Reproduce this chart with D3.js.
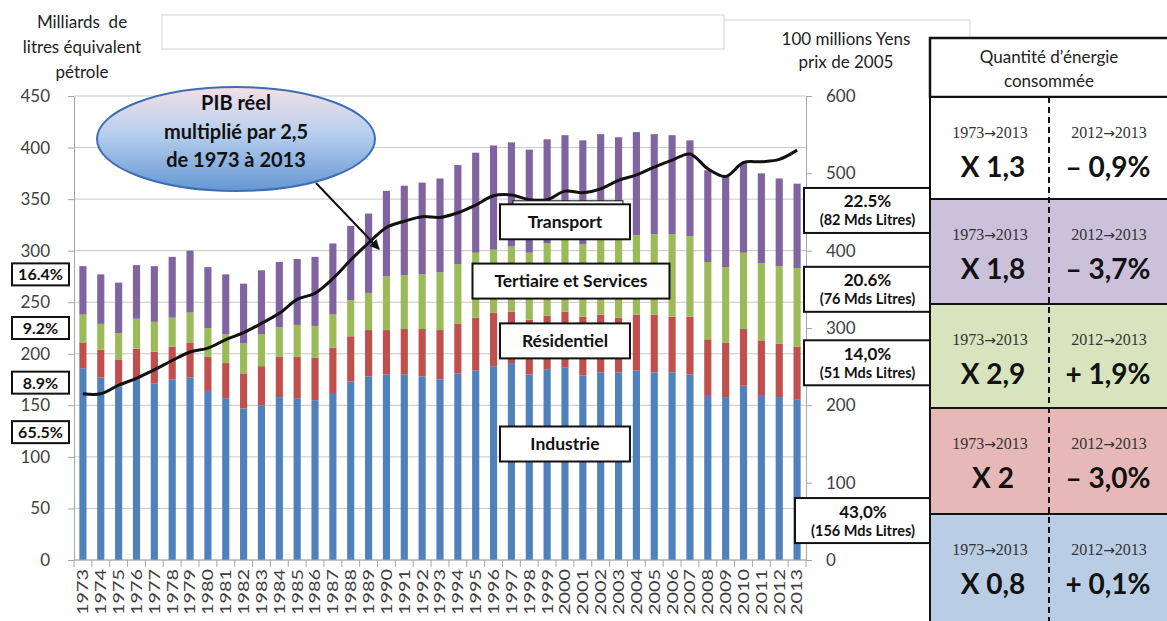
<!DOCTYPE html>
<html>
<head>
<meta charset="utf-8">
<script src="https://cdn.jsdelivr.net/npm/d3@7"></script>
<style>
  body { margin: 0; background: #fff; }
  svg { display: block; font-family: Lato, "Open Sans", sans-serif; }
</style>
</head>
<body>
<svg></svg>
<script>
// ---- data ----
const years = [1973,1974,1975,1976,1977,1978,1979,1980,1981,1982,1983,1984,1985,1986,1987,1988,1989,1990,1991,1992,
               1993,1994,1995,1996,1997,1998,1999,2000,2001,2002,2003,2004,2005,2006,2007,2008,2009,2010,2011,2012,2013];

const industrie   = [186,177,168,175,171,175,177,164,157,147,150,158,157,155,162,173,178,180,180,178,
                     175,181,184,188,191,180,185,187,179,182,182,184,182,182,180,160,158,169,160,158,156];
const residentiel = [25,27,26,30,31,32,34,33,34,34,38,39,40,41,44,44,45,43,44,46,
                     48,48,51,52,50,53,52,54,57,56,53,54,56,54,56,54,53,55,53,52,51];
const tertiaire   = [27,25,26,29,29,28,29,28,28,29,31,29,31,31,32,35,36,52,52,53,
                     56,58,63,61,63,65,70,71,70,76,75,77,78,80,78,75,73,74,75,75,76];
const transport   = [47,48,49,52,54,59,60,59,58,58,62,63,64,67,69,72,77,83,87,89,
                     91,96,97,101,101,100,101,100,101,99,100,100,97,96,93,89,88,87,87,85,82];
// PIB réel, 100 millions Yens prix de 2005 (right axis)
const pib         = [215,215,226,235,246,258,269,274,285,294,306,319,337,345,364,388,410,430,438,444,
                     443,449,459,471,472,466,466,477,475,480,491,498,508,517,525,506,496,514,515,518,530];

const leftTicks  = [0,50,100,150,200,250,300,350,400,450];
const rightTicks = [0,100,200,300,400,500,600];

const sectorNames = ['Transport', 'Tertiaire et Services', 'Résidentiel', 'Industrie'];
const share1973   = ['16.4%', '9.2%', '8.9%', '65.5%'];
const share2013   = [['22.5%', '(82 Mds Litres)'], ['20.6%', '(76 Mds Litres)'],
                     ['14,0%', '(51 Mds Litres)'], ['43,0%', '(156 Mds Litres)']];
const ratio7313   = ['X 1,3', 'X 1,8', 'X 2,9', 'X 2', 'X 0,8'];
const change1213  = ['– 0,9%', '– 3,7%', '+ 1,9%', '– 3,0%', '+ 0,1%'];

// ---- setup ----
const width = 1167, height = 621;
const colors = { industrie: '#4f81bd', residentiel: '#c0504d', tertiaire: '#9bbb59', transport: '#8064a2' };
const rowFills = ['#ffffff', '#ccc1da', '#d7e4bd', '#e6b9b8', '#b9cde5'];
const axisText = '#404040';

const svg = d3.select('svg').attr('width', width).attr('height', height);

const x = d3.scaleBand().domain(years).range([74, 806]).paddingInner(0.6).paddingOuter(0.3);
const yL = d3.scaleLinear().domain([0, 450]).range([560, 96]);
const yR = d3.scaleLinear().domain([0, 600]).range([560, 96]);
const bw = x.bandwidth();
const cx = d => x(d) + bw / 2;

// faint frames at top (empty title boxes)
svg.append('rect').attr('x', 162).attr('y', 15).attr('width', 562).attr('height', 34)
  .attr('fill', 'none').attr('stroke', '#d4d4d4');
svg.append('path').attr('d', 'M724,20 H970 V40').attr('fill', 'none').attr('stroke', '#d4d4d4');

// axis titles
svg.append('text').attr('x', 82).attr('y', 28).attr('text-anchor', 'middle')
  .attr('font-size', 17).attr('fill', '#222')
  .selectAll('tspan').data(['Milliards  de', 'litres équivalent', 'pétrole']).enter()
  .append('tspan').attr('x', 82).attr('dy', (d, i) => i ? 25 : 0).attr('xml:space', 'preserve').text(d => d);

svg.append('text').attr('x', 846).attr('y', 45).attr('text-anchor', 'middle')
  .attr('font-size', 17).attr('fill', '#222')
  .selectAll('tspan').data(['100 millions Yens', 'prix de 2005']).enter()
  .append('tspan').attr('x', 846).attr('dy', (d, i) => i ? 23 : 0).text(d => d);

// gridlines
svg.append('g').selectAll('line').data(leftTicks).enter().append('line')
  .attr('x1', 74).attr('x2', 806)
  .attr('y1', d => yL(d)).attr('y2', d => yL(d))
  .attr('stroke', '#c8c8c8');

// stacked bars
const table = years.map((y, i) => ({
  year: y, industrie: industrie[i], residentiel: residentiel[i], tertiaire: tertiaire[i], transport: transport[i]
}));
const series = d3.stack().keys(['industrie', 'residentiel', 'tertiaire', 'transport'])(table);

svg.append('g').selectAll('g').data(series).enter().append('g')
  .attr('fill', d => colors[d.key])
  .selectAll('rect').data(d => d).enter().append('rect')
  .attr('x', d => x(d.data.year))
  .attr('y', d => yL(d[1]))
  .attr('width', bw)
  .attr('height', d => yL(d[0]) - yL(d[1]));

// axes
const styleAxis = g => {
  g.select('.domain').attr('stroke', '#a6a6a6');
  g.selectAll('.tick line').attr('stroke', '#a6a6a6');
  g.selectAll('.tick text').attr('fill', axisText).attr('font-size', 17).attr('font-family', 'Lato, sans-serif');
};

svg.append('g').attr('transform', 'translate(74,0)')
  .call(d3.axisLeft(yL).tickValues(leftTicks).tickSize(6).tickPadding(18).tickSizeOuter(0))
  .call(styleAxis);

svg.append('g').attr('transform', 'translate(806,0)')
  .call(d3.axisRight(yR).tickValues(rightTicks).tickSize(6).tickPadding(14).tickSizeOuter(0))
  .call(styleAxis);

// category axis: baseline, ticks between bars, rotated year labels
const step = x.step();
const edge = d => d === 'end' ? x(2013) + bw + (step - bw) / 2 : x(d) - (step - bw) / 2;
const xg = svg.append('g');
xg.append('line').attr('x1', 74).attr('x2', 806).attr('y1', 560).attr('y2', 560).attr('stroke', '#a6a6a6');
xg.selectAll('line.t').data(years.concat(['end'])).enter().append('line').attr('class', 't')
  .attr('x1', edge).attr('x2', edge)
  .attr('y1', 560).attr('y2', 567).attr('stroke', '#a6a6a6');
xg.selectAll('text').data(years).enter().append('text')
  .attr('transform', d => `translate(${cx(d)},569) rotate(-90)`)
  .attr('text-anchor', 'end').attr('dy', '0.36em')
  .attr('font-size', 15).attr('fill', axisText)
  .attr('textLength', 46).attr('lengthAdjust', 'spacingAndGlyphs')
  .text(d => d);

// PIB line
const line = d3.line()
  .x((d, i) => cx(years[i]))
  .y(d => yR(d))
  .curve(d3.curveCatmullRom.alpha(0.5));
svg.append('path').datum(pib).attr('d', line)
  .attr('fill', 'none').attr('stroke', '#111').attr('stroke-width', 3).attr('stroke-linejoin', 'round');

// PIB bubble + arrow
const defs = svg.append('defs');
const grad = defs.append('linearGradient').attr('id', 'bubble').attr('x1', 0).attr('y1', 0).attr('x2', 0).attr('y2', 1);
grad.append('stop').attr('offset', '0%').attr('stop-color', '#f4dfe6');
grad.append('stop').attr('offset', '45%').attr('stop-color', '#b6cfee');
grad.append('stop').attr('offset', '100%').attr('stop-color', '#6596d2');
defs.append('marker').attr('id', 'arrow').attr('viewBox', '0 0 10 10')
  .attr('refX', 9).attr('refY', 5).attr('markerWidth', 5).attr('markerHeight', 5).attr('orient', 'auto')
  .append('path').attr('d', 'M0,0 L10,5 L0,10 z').attr('fill', '#111');

svg.append('line').attr('x1', 316).attr('y1', 183).attr('x2', 379).attr('y2', 249)
  .attr('stroke', '#111').attr('stroke-width', 2).attr('marker-end', 'url(#arrow)');
svg.append('ellipse').attr('cx', 236).attr('cy', 139).attr('rx', 139).attr('ry', 52)
  .attr('fill', 'url(#bubble)').attr('stroke', '#3d6db3').attr('stroke-width', 2);
svg.append('text').attr('text-anchor', 'middle').attr('font-weight', 'bold').attr('font-size', 20).attr('fill', '#111')
  .selectAll('tspan').data(['PIB réel', 'multiplié par 2,5', 'de 1973 à 2013']).enter()
  .append('tspan').attr('x', 236).attr('y', (d, i) => 110 + i * 28.5).text(d => d);

// label box helper
function box(g, x0, y0, w, h) {
  return g.append('rect').attr('x', x0).attr('y', y0).attr('width', w).attr('height', h)
    .attr('fill', '#fff').attr('stroke', '#111').attr('stroke-width', 2);
}

// 1973 shares (left)
const leftAt = [277, 225, 172, 124];
share1973.forEach((t, i) => {
  const yc = yL(leftAt[i]);
  box(svg, 12, yc - 11, 57, 22);
  svg.append('text').attr('x', 40.5).attr('y', yc + 6).attr('text-anchor', 'middle')
    .attr('font-weight', 'bold').attr('font-size', 16).attr('fill', '#111').text(t);
});

// sector names (middle)
const nameAt = [328, 270.5, 212.5, 112.5];
sectorNames.forEach((t, i) => {
  const yc = yL(nameAt[i]);
  const w = i === 1 ? 197 : 130;
  if (i === 0) {
    svg.append('rect').attr('x', cx(2000) - 52).attr('y', yc - 21).attr('width', 110).attr('height', 6)
      .attr('fill', '#fff').attr('stroke', '#111').attr('stroke-width', 1);
  }
  box(svg, cx(2000) + (i === 1 ? 6 : 0) - w / 2, yc - 17.5, w, 35);
  svg.append('text').attr('x', cx(2000) + (i === 1 ? 6 : 0)).attr('y', yc + 6).attr('text-anchor', 'middle')
    .attr('font-weight', 'bold').attr('font-size', 17.5).attr('fill', '#111').text(t);
});

// 2013 shares (right), placed between the right-axis ticks
const rightAt = [452, 350, 255, 51];
share2013.forEach((t, i) => {
  const yc = yR(rightAt[i]);
  const x0 = i === 3 ? 795 : 804;
  box(svg, x0, yc - 22.5, 931 - x0, 45);
  const g = svg.append('text').attr('text-anchor', 'middle').attr('font-weight', 'bold').attr('fill', '#111');
  g.append('tspan').attr('x', (x0 + 931) / 2).attr('y', yc - 3).attr('font-size', 17).text(t[0]);
  g.append('tspan').attr('x', (x0 + 931) / 2).attr('y', yc + 15).attr('font-size', 14.5).text(t[1]);
});

// ---- table on the right ----
const tx = 930, tRight = 1180, tMid = 1049;
const rowEdges = [97, 199, 304, 408, 514, 625];
const tbl = svg.append('g');
tbl.append('rect').attr('x', tx).attr('y', 38).attr('width', tRight - tx).attr('height', 59)
  .attr('fill', '#fff').attr('stroke', '#111').attr('stroke-width', 2.5);
tbl.append('text').attr('text-anchor', 'middle').attr('font-size', 17).attr('fill', '#222')
  .selectAll('tspan').data(['Quantité d’énergie', 'consommée']).enter()
  .append('tspan').attr('x', 1049).attr('y', (d, i) => 63 + i * 24).text(d => d);

function period(g, xc, y, a, b) {
  const t = g.append('text').attr('x', xc).attr('y', y).attr('text-anchor', 'middle')
    .attr('font-family', '"Liberation Serif", serif').attr('font-size', 16).attr('fill', '#333');
  t.append('tspan').text(a);
  t.append('tspan').attr('font-family', '"DejaVu Sans", sans-serif').attr('font-size', 14).text('→');
  t.append('tspan').text(b);
}

ratio7313.forEach((r, i) => {
  const y0 = rowEdges[i], y1 = rowEdges[i + 1];
  tbl.append('rect').attr('x', tx).attr('y', y0).attr('width', tRight - tx).attr('height', y1 - y0)
    .attr('fill', rowFills[i]).attr('stroke', '#111').attr('stroke-width', 2);
  period(tbl, 990, y0 + 41, '1973', '2013');
  period(tbl, 1109, y0 + 41, '2012', '2013');
  tbl.append('text').attr('x', 993).attr('y', y0 + 80).attr('text-anchor', 'middle')
    .attr('font-weight', 'bold').attr('font-size', 28).attr('fill', '#111').text(r);
  tbl.append('text').attr('x', 1108).attr('y', y0 + 80).attr('text-anchor', 'middle')
    .attr('font-weight', 'bold').attr('font-size', 28).attr('fill', '#111').text(change1213[i]);
});
tbl.append('line').attr('x1', tMid).attr('x2', tMid).attr('y1', 97).attr('y2', 621)
  .attr('stroke', '#111').attr('stroke-width', 2).attr('stroke-dasharray', '6,4');
</script>
</body>
</html>
